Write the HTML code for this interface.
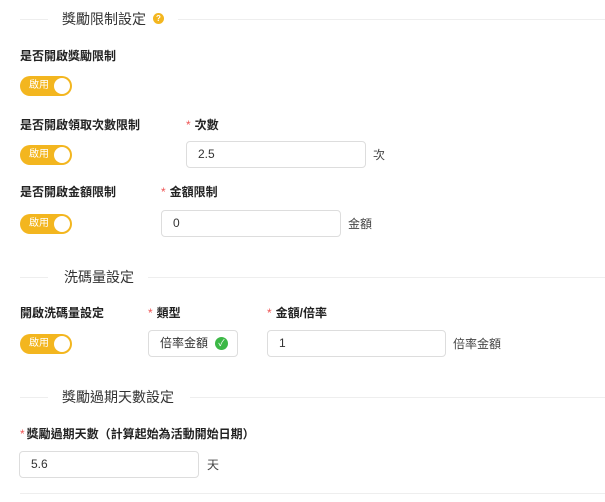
<!DOCTYPE html>
<html><head><meta charset="utf-8"><style>
body{margin:0;width:605px;height:502px;background:#fff;position:relative;overflow:hidden;font-family:"Liberation Sans","Noto Sans CJK TC",sans-serif;color:#333}
.a{position:absolute}
.hl{position:absolute;height:1px;background:#eee}
.h{position:absolute;font-size:14px;color:#333;line-height:16px}
.lb{position:absolute;font-size:12px;font-weight:bold;color:#222;line-height:14px}
.st{color:#e55;font-weight:normal;margin-right:4px}
.tg{position:absolute;width:52px;height:20px;border-radius:10px;background:#f3b61f;}
.tg span{position:absolute;left:9px;top:4px;font-size:10px;color:#fff;line-height:12px}
.tg i{position:absolute;right:2px;top:2px;width:16px;height:16px;border-radius:50%;background:#fff}
.in{position:absolute;height:27px;border:1px solid #ddd;border-radius:4px;box-sizing:border-box;font-size:12px;line-height:25px;padding-left:11px;color:#333}
.sf{position:absolute;font-size:12px;color:#444;line-height:14px}
</style></head><body>
<div class="hl" style="left:20px;width:28px;top:19px"></div>
<div class="h" style="left:62px;top:11px">獎勵限制設定</div>
<div class="a" style="left:153px;top:13px;width:11px;height:11px;border-radius:50%;background:#f3b61f;color:#fff;font-size:8px;line-height:11px;text-align:center;font-weight:bold">?</div>
<div class="hl" style="left:178px;right:0;top:19px"></div>

<div class="lb" style="left:20px;top:49px">是否開啟獎勵限制</div>
<div class="tg" style="left:20px;top:76px"><span>啟用</span><i></i></div>

<div class="lb" style="left:20px;top:118px">是否開啟領取次數限制</div>
<div class="lb" style="left:186px;top:118px"><span class="st">*</span>次數</div>
<div class="tg" style="left:20px;top:145px"><span>啟用</span><i></i></div>
<div class="in" style="left:186px;top:141px;width:180px">2.5</div>
<div class="sf" style="left:373px;top:148px">次</div>

<div class="lb" style="left:20px;top:185px">是否開啟金額限制</div>
<div class="lb" style="left:161px;top:185px"><span class="st">*</span>金額限制</div>
<div class="tg" style="left:20px;top:214px"><span>啟用</span><i></i></div>
<div class="in" style="left:161px;top:210px;width:180px">0</div>
<div class="sf" style="left:348px;top:217px">金額</div>

<div class="hl" style="left:20px;width:28px;top:277px"></div>
<div class="h" style="left:64px;top:269px">洗碼量設定</div>
<div class="hl" style="left:148px;right:0;top:277px"></div>

<div class="lb" style="left:20px;top:306px">開啟洗碼量設定</div>
<div class="lb" style="left:148px;top:306px"><span class="st">*</span>類型</div>
<div class="lb" style="left:267px;top:306px"><span class="st">*</span>金額/倍率</div>
<div class="tg" style="left:20px;top:334px"><span>啟用</span><i></i></div>
<div class="in" style="left:148px;top:330px;width:90px">倍率金額</div>
<div class="a" style="left:215px;top:337px;width:13px;height:13px;border-radius:50%;background:#3cb846;color:#fff;font-size:9px;line-height:13px;text-align:center">✓</div>
<div class="in" style="left:267px;top:330px;width:179px">1</div>
<div class="sf" style="left:453px;top:337px">倍率金額</div>

<div class="hl" style="left:20px;width:28px;top:397px"></div>
<div class="h" style="left:62px;top:389px">獎勵過期天數設定</div>
<div class="hl" style="left:190px;right:0;top:397px"></div>

<div class="lb" style="left:20px;top:427px"><span class="st" style="margin-right:2px">*</span>獎勵過期天數（計算起始為活動開始日期）</div>
<div class="in" style="left:19px;top:451px;width:180px">5.6</div>
<div class="sf" style="left:207px;top:458px">天</div>
<div class="hl" style="left:20px;right:0;top:493px"></div>
</body></html>
